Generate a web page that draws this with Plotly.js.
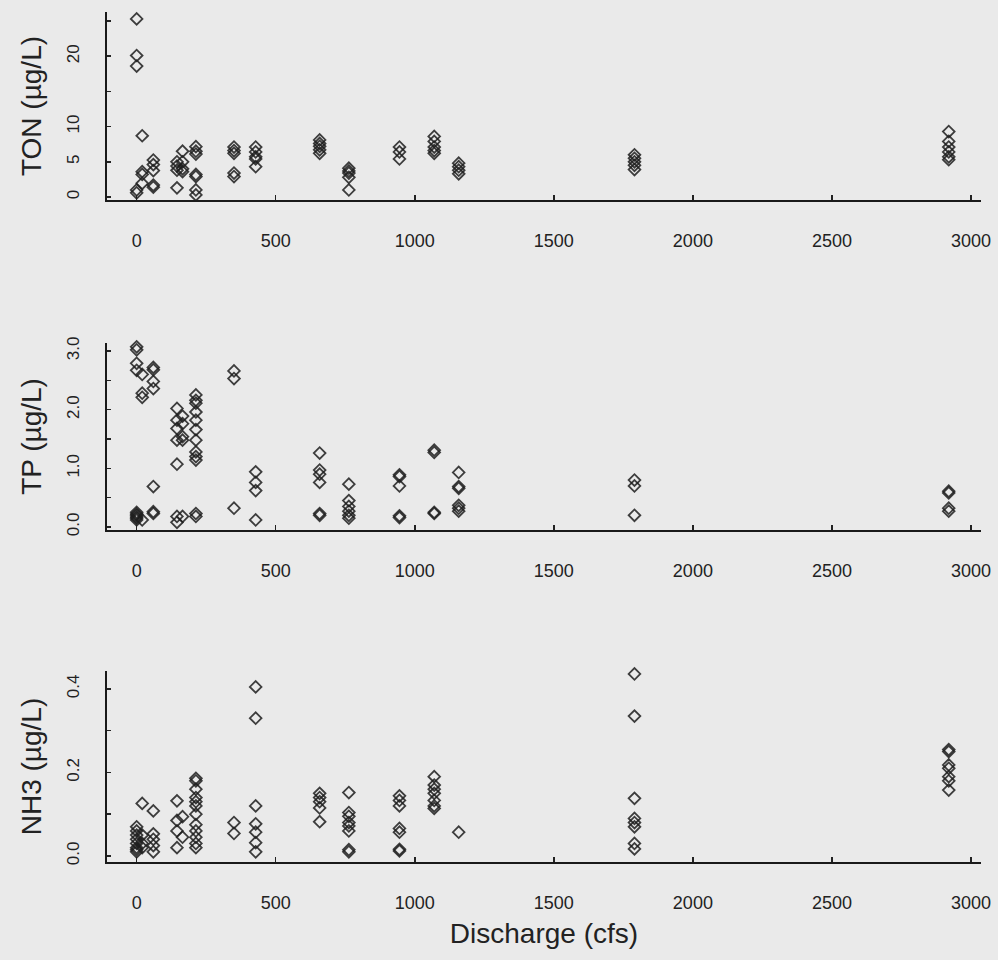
<!DOCTYPE html>
<html>
<head>
<meta charset="utf-8">
<script src="https://cdn.plot.ly/plotly-3.0.1.min.js"></script>
<style>html,body{margin:0;padding:0;background:#eaeaea;}#chart{width:998px;height:960px;}</style>
</head>
<body>
<div id="chart"></div>
<script>
// Discharge (cfs) groups
const discharge = [0, 20, 60, 145, 165, 213, 350, 428, 658, 763, 945, 1070, 1158, 1790, 2920];

// TON (µg/L) values per discharge group
const ton = [
  [25.3, 20.1, 18.6, 0.6, 1.0],
  [8.7, 3.6, 3.2, 1.95],
  [5.25, 4.6, 3.75, 1.7, 1.4],
  [5.0, 4.4, 3.8, 1.3],
  [6.5, 5.0, 4.0, 3.6],
  [7.15, 6.5, 6.1, 3.2, 2.9, 1.0, 0.3],
  [7.1, 6.6, 6.2, 3.4, 2.9],
  [7.1, 6.4, 5.7, 5.4, 4.3],
  [8.1, 7.6, 7.2, 6.7, 6.2],
  [4.1, 3.7, 3.4, 2.8, 1.0],
  [7.1, 6.4, 5.4],
  [8.6, 7.9, 7.1, 6.6, 6.2],
  [4.8, 4.3, 3.8, 3.3],
  [6.0, 5.5, 5.0, 4.5, 3.9],
  [9.3, 7.9, 7.1, 6.4, 5.7, 5.3]
];

// TP (µg/L) values per discharge group
const tp = [
  [3.07, 3.02, 2.79, 2.67, 0.25, 0.22, 0.2, 0.17, 0.15, 0.12],
  [2.6, 2.28, 2.21, 0.12],
  [2.72, 2.68, 2.48, 2.36, 0.69, 0.26, 0.23],
  [2.02, 1.82, 1.68, 1.48, 1.07, 0.18, 0.08],
  [1.89, 1.76, 1.54, 1.48, 0.18],
  [2.25, 2.16, 2.11, 1.96, 1.82, 1.66, 1.48, 1.28, 1.2, 1.14, 0.23, 0.18],
  [2.66, 2.53, 0.32],
  [0.94, 0.76, 0.62, 0.12],
  [1.26, 0.97, 0.9, 0.76, 0.23, 0.2],
  [0.73, 0.45, 0.35, 0.27, 0.2, 0.15],
  [0.89, 0.86, 0.7, 0.19, 0.16],
  [1.31, 1.27, 0.25, 0.23],
  [0.93, 0.69, 0.66, 0.37, 0.32, 0.27],
  [0.8, 0.7, 0.2],
  [0.61, 0.58, 0.32, 0.27]
];

// NH3 (µg/L) values per discharge group
const nh3 = [
  [0.07, 0.06, 0.05, 0.04, 0.03, 0.02, 0.015, 0.01],
  [0.126, 0.05, 0.03, 0.02],
  [0.108, 0.053, 0.04, 0.025, 0.01],
  [0.132, 0.085, 0.06, 0.02],
  [0.094, 0.045],
  [0.186, 0.18, 0.16, 0.14, 0.13, 0.12, 0.1, 0.075, 0.06, 0.045, 0.03, 0.02],
  [0.08, 0.054],
  [0.405, 0.33, 0.12, 0.077, 0.057, 0.032, 0.01],
  [0.15, 0.14, 0.13, 0.115, 0.082],
  [0.152, 0.104, 0.095, 0.08, 0.072, 0.06, 0.015, 0.01],
  [0.144, 0.133, 0.12, 0.066, 0.057, 0.016, 0.012],
  [0.19, 0.17, 0.16, 0.15, 0.133, 0.12, 0.114],
  [0.057],
  [0.436, 0.335, 0.138, 0.09, 0.08, 0.07, 0.03, 0.017],
  [0.255, 0.25, 0.218, 0.21, 0.19, 0.18, 0.158]
];

const xTicks = [0, 500, 1000, 1500, 2000, 2500, 3000];
const tonTicks = [0, 5, 10, 15, 20, 25];
const tonTickText = ['0', '5', '10', '', '20', ''];
const tpTicks = [0, 0.5, 1, 1.5, 2, 2.5, 3];
const tpTickText = ['0.0', '', '1.0', '', '2.0', '', '3.0'];
const nh3Ticks = [0, 0.1, 0.2, 0.3, 0.4];
const nh3TickText = ['0.0', '', '0.2', '', '0.4'];

function flatten(groups) {
  const xs = [], ys = [];
  groups.forEach((vals, i) => vals.forEach(v => { xs.push(discharge[i]); ys.push(v); }));
  return {x: xs, y: ys};
}

const marker = {symbol: 'diamond-open', size: 9, color: 'rgba(30,30,30,0.85)', line: {width: 1.8}};
const fTON = flatten(ton), fTP = flatten(tp), fNH3 = flatten(nh3);

const data = [
  {type: 'scatter', mode: 'markers', x: fTON.x, y: fTON.y, xaxis: 'x', yaxis: 'y', marker: marker, cliponaxis: false, name: 'TON'},
  {type: 'scatter', mode: 'markers', x: fTP.x, y: fTP.y, xaxis: 'x2', yaxis: 'y2', marker: marker, cliponaxis: false, name: 'TP'},
  {type: 'scatter', mode: 'markers', x: fNH3.x, y: fNH3.y, xaxis: 'x3', yaxis: 'y3', marker: marker, cliponaxis: false, name: 'NH3'}
];

const FONT = 'Liberation Sans, Arial, sans-serif';
function xAxis(anchor, withTitle) {
  const ax = {
    anchor: anchor, domain: [0, 1], range: [-106.6, 3036],
    tickvals: xTicks, ticktext: xTicks.map(String),
    ticks: 'inside', ticklen: 5, tickwidth: 1.5, tickcolor: '#222',
    showline: true, linecolor: '#1a1a1a', linewidth: 2,
    showgrid: false, zeroline: false,
    ticklabelstandoff: 23,
    tickfont: {family: FONT, size: 18, color: '#222'}
  };
  if (withTitle) ax.title = {text: 'Discharge (cfs)', font: {family: FONT, size: 28, color: '#222'}, standoff: 12};
  return ax;
}
function yAxis(anchor, domain, range, vals, text, title) {
  return {
    anchor: anchor, domain: domain, range: range,
    tickvals: vals, ticktext: text, tickangle: -90,
    ticks: 'inside', ticklen: 4, tickwidth: 1.5, tickcolor: '#222',
    showline: true, linecolor: '#1a1a1a', linewidth: 2,
    showgrid: false, zeroline: false,
    ticklabelstandoff: 19,
    tickfont: {family: FONT, size: 17, color: '#222'},
    title: {text: title, font: {family: FONT, size: 28, color: '#222'}, standoff: 14}
  };
}

const layout = {
  width: 998, height: 960,
  margin: {l: 107, r: 17, t: 12, b: 98},
  paper_bgcolor: '#eaeaea', plot_bgcolor: '#eaeaea',
  showlegend: false,
  xaxis: xAxis('y', false),
  xaxis2: xAxis('y2', false),
  xaxis3: xAxis('y3', true),
  yaxis: yAxis('x', [0.7788, 1.0], [-0.43, 26.28], tonTicks, tonTickText, 'TON (µg/L)'),
  yaxis2: yAxis('x2', [0.3906, 0.6106], [-0.051, 3.136], tpTicks, tpTickText, 'TP (µg/L)'),
  yaxis3: yAxis('x3', [0.0, 0.2247], [-0.0144, 0.443], nh3Ticks, nh3TickText, 'NH3 (µg/L)')
};

Plotly.newPlot('chart', data, layout, {displayModeBar: false, staticPlot: true});
</script>
</body>
</html>
